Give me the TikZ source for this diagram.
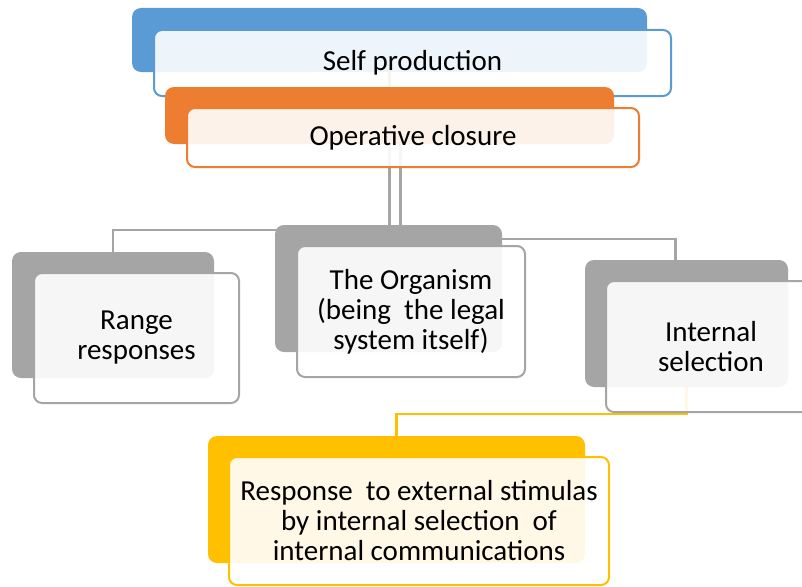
\documentclass[tikz,border=0pt]{standalone}
\usepackage{fontspec}
\setmainfont{Carlito}
\usetikzlibrary{calc,backgrounds}
\definecolor{cblue}{HTML}{5B9BD5}
\definecolor{corange}{HTML}{ED7D31}
\definecolor{cgray}{HTML}{A5A5A5}
\definecolor{cyellow}{HTML}{FFC000}
\begin{document}
\begin{tikzpicture}[x=1pt,y=-1pt,
  box/.style={rectangle, anchor=north west, inner sep=0pt, outer sep=0pt},
  backbox/.style={box, rounded corners=9pt, fill=#1},
  frontbox/.style={box, rounded corners=8pt, draw=#1, line width=2pt, fill=white,
    fill opacity=0.9, text opacity=1, align=center, font=\fontsize{29}{30}\selectfont},
  conn/.style={line width=2.5pt, draw=#1}]
\useasboundingbox (0,0) rectangle (802,586);
% Self production
\node[backbox=cblue, minimum width=515, minimum height=64] (selfb) at (132,8) {};
\node[frontbox=cblue, minimum width=517, minimum height=66] (selff) at (154,30) {Self production};
% Operative closure
\node[backbox=corange, minimum width=449, minimum height=57] (opb) at (165,87) {};
\node[frontbox=corange, minimum width=452, minimum height=59] (opf) at (187,108) {Operative closure};
% Range responses
\node[backbox=cgray, minimum width=202, minimum height=126] (rangeb) at (12,252) {};
\node[frontbox=cgray, minimum width=205, minimum height=130] (rangef) at (34,273) {Range\\responses};
% The Organism
\node[backbox=cgray, minimum width=227, minimum height=127] (orgb) at (275,225) {};
\node[frontbox=cgray, minimum width=228, minimum height=131] (orgf) at (297,246) {The Organism\\(being\ \ the legal\\system itself)};
% Internal selection
\node[backbox=cgray, minimum width=203, minimum height=127] (internb) at (585,260) {};
\node[frontbox=cgray, minimum width=210, minimum height=131] (internf) at (606,281) {Internal\\selection};
% Response
\node[backbox=cyellow, minimum width=377, minimum height=127] (respb) at (208,436) {};
\node[frontbox=cyellow, minimum width=380, minimum height=128] (respf) at (229,457) {Response\ \ to external stimulas\\by internal selection\ \ of\\internal communications};
% connectors
\coordinate (e1) at (0,230);
\coordinate (e2) at (0,239);
\coordinate (e3) at (0,414);
\coordinate (p2) at ($(opb.south)+(11,0)$);
\coordinate (q2) at ($(internb.north)+(-11,0)$);
\begin{scope}[on background layer]
\draw[conn=corange] (selfb.south) -- (opb.north);
\draw[conn=cgray] (opb.south) |- (rangeb.north |- e1) -- (rangeb.north);
\draw[conn=cgray] (p2) |- (q2 |- e2) -- (q2);
\draw[conn=cyellow] (internb.south) |- (respb.north |- e3) -- (respb.north);
\end{scope}
\end{tikzpicture}
\end{document}
